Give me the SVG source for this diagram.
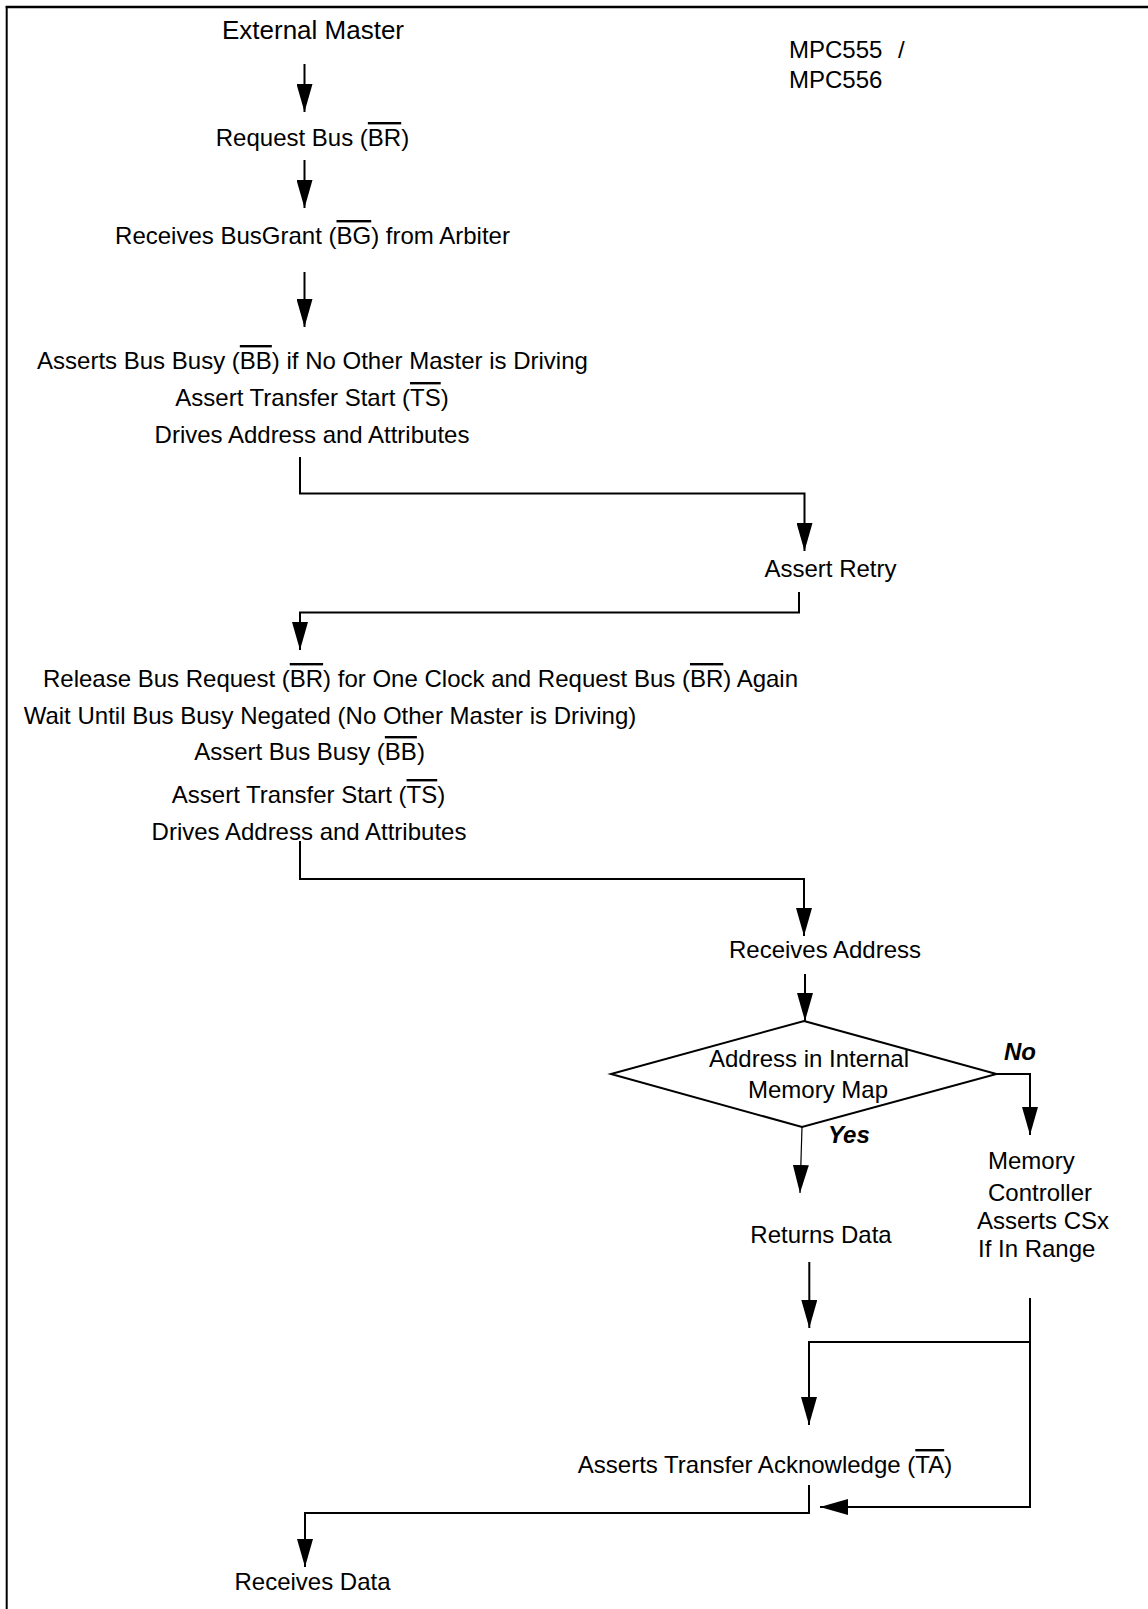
<svg xmlns="http://www.w3.org/2000/svg" width="1148" height="1609" viewBox="0 0 1148 1609">
<style>
text{font-family:"Liberation Sans",Arial,Helvetica,sans-serif;font-size:24px;fill:#000}
.c{text-anchor:middle}
.ov{text-decoration:overline}
.bi{font-weight:bold;font-style:italic}
.ln{fill:none;stroke:#000;stroke-width:2}
.thin{fill:none;stroke:#000;stroke-width:1.2}
</style>
<defs>
<marker id="ah" markerUnits="userSpaceOnUse" viewBox="0 0 28 16" refX="28" refY="8" markerWidth="28" markerHeight="16" orient="auto">
<path d="M0,0 L28,8 L0,16 Z" fill="#000"/>
</marker>
</defs>
<rect width="1148" height="1609" fill="#fff"/>
<g id="frame">
<line x1="5.7" y1="7" x2="1148" y2="7" stroke="#000" stroke-width="2.6"/>
<line x1="6.7" y1="6" x2="6.7" y2="1609" stroke="#000" stroke-width="2"/>
</g>
<g id="n_ext"><text class="c" x="313" y="39" style="font-size:26px">External Master</text></g>
<g id="n_mpc"><text x="789" y="58">MPC555<tspan x="898">/</tspan></text><text x="789" y="88">MPC556</text></g>
<g id="n_req"><text class="c" x="312.5" y="146">Request Bus (<tspan class="ov">BR</tspan>)</text></g>
<g id="n_grant"><text class="c" x="312.5" y="244">Receives BusGrant (<tspan class="ov">BG</tspan>) from Arbiter</text></g>
<g id="n_assert1">
<text class="c" x="312.5" y="369">Asserts Bus Busy (<tspan class="ov">BB</tspan>) if No Other Master is Driving</text>
<text class="c" x="312" y="406">Assert Transfer Start (<tspan class="ov">TS</tspan>)</text>
<text class="c" x="312" y="443">Drives Address and Attributes</text>
</g>
<g id="n_retry"><text class="c" x="830.5" y="577">Assert Retry</text></g>
<g id="n_release">
<text class="c" x="420.5" y="687">Release Bus Request (<tspan class="ov">BR</tspan>) for One Clock and Request Bus (<tspan class="ov">BR</tspan>) Again</text>
<text class="c" x="330" y="724">Wait Until Bus Busy Negated (No Other Master is Driving)</text>
<text class="c" x="309.5" y="760">Assert Bus Busy (<tspan class="ov">BB</tspan>)</text>
<text class="c" x="308.5" y="803">Assert Transfer Start (<tspan class="ov">TS</tspan>)</text>
<text class="c" x="309" y="840">Drives Address and Attributes</text>
</g>
<g id="n_recaddr"><text class="c" x="825" y="958">Receives Address</text></g>
<g id="n_decision">
<polygon points="804,1021 996.5,1074 802,1127 611,1074" fill="none" stroke="#000" stroke-width="2"/>
<text class="c" x="809" y="1067">Address in Internal</text>
<text class="c" x="818" y="1098">Memory Map</text>
</g>
<g id="n_memctl">
<text x="988" y="1169">Memory</text>
<text x="988" y="1201">Controller</text>
<text x="977" y="1229">Asserts CSx</text>
<text x="978" y="1257">If In Range</text>
</g>
<g id="n_return"><text class="c" x="821" y="1243">Returns Data</text></g>
<g id="n_ta"><text class="c" x="765" y="1473">Asserts Transfer Acknowledge (<tspan class="ov">TA</tspan>)</text></g>
<g id="n_recdata"><text class="c" x="312.5" y="1590">Receives Data</text></g>
<g id="connectors">
<path class="ln" d="M304.5,64 V112" marker-end="url(#ah)"/>
<path class="ln" d="M304.5,160 V208" marker-end="url(#ah)"/>
<path class="ln" d="M304.5,272 V327" marker-end="url(#ah)"/>
<path class="ln" d="M300,457 V493.5 H804.5 V551" marker-end="url(#ah)"/>
<path class="ln" d="M799,592 V612.5 H300 V650" marker-end="url(#ah)"/>
<path class="ln" d="M300,841 V879 H804 V936" marker-end="url(#ah)"/>
<path class="ln" d="M805,974 V1021" marker-end="url(#ah)"/>
<path class="ln" d="M996.5,1074 H1030 V1135" marker-end="url(#ah)"/>
<path class="thin" d="M802,1127 L800,1193" marker-end="url(#ah)"/>
<path class="ln" d="M809.3,1262 V1328" marker-end="url(#ah)"/>
<path class="ln" d="M1030,1298 V1507 H820" marker-end="url(#ah)"/>
<path class="ln" d="M1030,1342 H809 V1425" marker-end="url(#ah)"/>
<path class="ln" d="M809,1485 V1513 H305 V1567" marker-end="url(#ah)"/>
<text class="bi" x="1004" y="1060">No</text>
<text class="bi" x="828" y="1143">Yes</text>
</g>
</svg>
